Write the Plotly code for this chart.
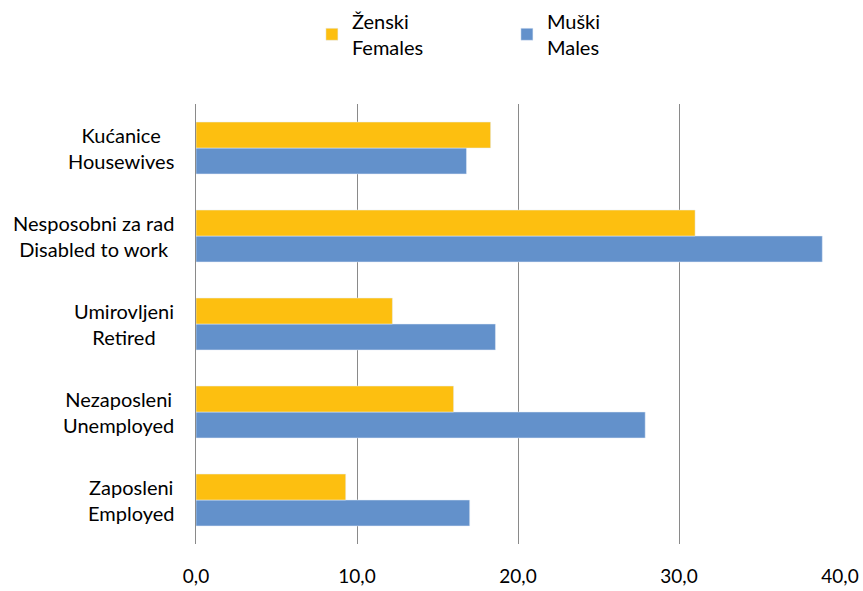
import plotly.graph_objects as go

categories = ["Zaposleni<br>Employed", "Nezaposleni<br>Unemployed", "Umirovljeni<br>Retired",
              "Nesposobni za rad<br>Disabled to work", "Kućanice<br>Housewives"]
females = [9.3, 16.0, 12.2, 31.0, 18.3]
males = [17.0, 27.9, 18.6, 38.9, 16.8]
x_ticks = [0, 10, 20, 30, 40]
x_tick_labels = ["0,0", "10,0", "20,0", "30,0", "40,0"]

FONT = "Lato, Open Sans, sans-serif"

fig = go.Figure()
fig.add_trace(go.Bar(y=categories, x=males, orientation="h", name="Muški<br>Males",
                     marker_color="#6391CB", legendrank=2))
fig.add_trace(go.Bar(y=categories, x=females, orientation="h", name="Ženski<br>Females",
                     marker_color="#FDBF10", legendrank=1))

# category labels, centred lines like the original
for c in categories:
    fig.add_annotation(x=0, y=c, xref="paper", yref="y", text=c, showarrow=False,
                       xanchor="right", yanchor="middle", align="center", xshift=-20,
                       font=dict(family=FONT, size=20, color="#000"))

fig.update_layout(
    width=863, height=591,
    margin=dict(l=196, r=23, t=104, b=47, autoexpand=False),
    plot_bgcolor="white", paper_bgcolor="white",
    barmode="group", bargap=0.41, bargroupgap=0,
    font=dict(family=FONT, size=20, color="#000"),
    legend=dict(orientation="h", x=0.18, y=0.997, xanchor="left", yanchor="top",
                yref="container", traceorder="normal", entrywidth=150,
                font=dict(size=20), itemwidth=30),
    showlegend=True,
)
fig.update_xaxes(range=[0, 40], tickvals=x_ticks, ticktext=x_tick_labels,
                 showgrid=True, gridcolor="#8A8A8A", gridwidth=1, zeroline=False,
                 ticks="outside", ticklen=15, tickcolor="rgba(0,0,0,0)",
                 tickfont=dict(size=19), showline=False, automargin=False)
fig.update_yaxes(showticklabels=False, showline=True, linecolor="#8A8A8A", linewidth=1,
                 showgrid=False)

fig.write_html("out.html", config={"displayModeBar": False},
               post_script="document.body.style.margin='0';")
